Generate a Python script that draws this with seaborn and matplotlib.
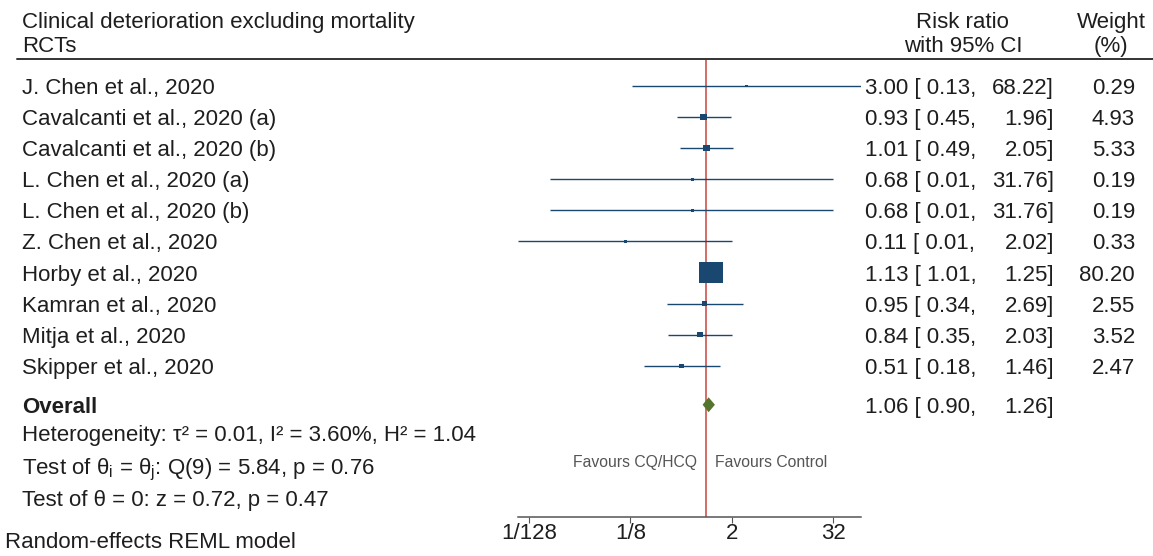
import numpy as np
import pandas as pd
import matplotlib
matplotlib.use("Agg")
import matplotlib.pyplot as plt
import matplotlib.transforms as mtransforms
import seaborn as sns

# Study data
studies = [
    "J. Chen et al., 2020",
    "Cavalcanti et al., 2020 (a)",
    "Cavalcanti et al., 2020 (b)",
    "L. Chen et al., 2020 (a)",
    "L. Chen et al., 2020 (b)",
    "Z. Chen et al., 2020",
    "Horby et al., 2020",
    "Kamran et al., 2020",
    "Mitja et al., 2020",
    "Skipper et al., 2020",
]
rr = [3.00, 0.93, 1.01, 0.68, 0.68, 0.11, 1.13, 0.95, 0.84, 0.51]
lower = [0.13, 0.45, 0.49, 0.014, 0.014, 0.0058, 1.01, 0.34, 0.35, 0.18]
upper = [68.22, 1.96, 2.05, 31.76, 31.76, 2.02, 1.25, 2.69, 2.03, 1.46]
lower_txt = ["0.13", "0.45", "0.49", "0.01", "0.01", "0.01", "1.01", "0.34", "0.35", "0.18"]
weights = [0.29, 4.93, 5.33, 0.19, 0.19, 0.33, 80.20, 2.55, 3.52, 2.47]

overall = (1.06, 0.90, 1.26)

tick_vals = [2.0 ** -7, 2.0 ** -3, 2.0, 2.0 ** 5]
tick_labels = ["1/128", "1/8", "2", "32"]

df = pd.DataFrame({"study": studies, "rr": rr, "lo": lower, "hi": upper, "w": weights})
df["row"] = np.arange(len(df))
overall_row = len(df) + 0.25

sns.set_style("white")
plt.rcParams["font.family"] = ["Liberation Sans", "DejaVu Sans"]
FS = 16
navy = "#1a476f"
txt = "#1e1e1e"

W, H = 1153, 556
fig = plt.figure(figsize=(W / 100, H / 100), dpi=100)

# forest panel: pixel box 518..861 wide, 60..517 tall
ax = fig.add_axes([518 / W, 1 - 517 / H, (861 - 518) / W, (517 - 60) / H])
ax.set_xscale("log", base=2)
ax.set_xlim(min(lower), max(upper))
ax.set_ylim(13.86, -0.836)

ax.hlines(df["row"], df["lo"], df["hi"], color=navy, lw=1.0, zorder=2)
# slightly wide box marker (reference image is stretched horizontally)
box = [(-1.2, -1), (1.2, -1), (1.2, 1), (-1.2, 1), (-1.2, -1)]
sns.scatterplot(data=df, x="rr", y="row", size="w",
                sizes=(5, max(weights) * 3.95),
                marker=box, color=navy, edgecolor="none", legend=False,
                ax=ax, zorder=3)

est, lo_o, hi_o = overall
dh = 0.24
ax.fill([lo_o, est, hi_o, est], [overall_row, overall_row - dh, overall_row, overall_row + dh],
        color="#55752f", zorder=4, lw=0)

ax.axvline(1, color="#c8453c", lw=1.1, zorder=1)

for s in ["top", "left", "right"]:
    ax.spines[s].set_visible(False)
ax.spines["bottom"].set_color("#555555")
ax.spines["bottom"].set_linewidth(1.1)
ax.set_xticks(tick_vals)
ax.set_xticklabels(tick_labels)
ax.minorticks_off()
ax.tick_params(axis="x", direction="out", length=4, width=0.8, color="#555555",
               labelsize=FS, labelcolor=txt, pad=0, bottom=True)
ax.set_yticks([])
ax.set_xlabel("")
ax.set_ylabel("")

# favours labels
ax.annotate("Favours CQ/HCQ", xy=(1, 12.12), xytext=(-6.5, 0), textcoords="offset points",
            ha="right", va="center", fontsize=11.3, color="#555555")
ax.annotate("Favours Control", xy=(1, 12.12), xytext=(5.8, 0), textcoords="offset points",
            ha="left", va="center", fontsize=11.3, color="#555555")

# text columns use figure x with data y, placed on the baseline
tr = mtransforms.blended_transform_factory(fig.transFigure, ax.transData)
tb = mtransforms.offset_copy(tr, fig=fig, y=-0.716 * FS / 2, units="points")
xl = 22 / W
x_est = 865 / W
x_up = 1054 / W
x_w = 1135 / W


def put(x, y, s, ha="left", **kw):
    fig.text(x, y, s, transform=tb, ha=ha, va="baseline", fontsize=FS, color=txt, **kw)


put(xl, -2.12, "Clinical deterioration excluding mortality")
put(xl, -1.35, "RCTs")
put(962 / W, -2.12, "Risk ratio", ha="center")
put(963 / W, -1.35, "with 95% CI", ha="center")
put(1111 / W, -2.12, "Weight", ha="center")
put(1111 / W, -1.35, "(%)", ha="center")

fig.add_artist(plt.Line2D([17 / W, 1.0], [1 - 59 / H, 1 - 59 / H], color="#333333", lw=1.4))

for _, r in df.iterrows():
    i = r["row"]
    put(xl, i, r["study"])
    put(x_est, i, f"{r['rr']:.2f} [ {lower_txt[int(i)]},")
    put(x_up, i, f"{r['hi']:.2f}]", ha="right")
    put(x_w, i, f"{r['w']:.2f}", ha="right")

put(xl, overall_row, "Overall", fontweight="bold")
put(x_est, overall_row, f"{est:.2f} [ {lo_o:.2f},")
put(x_up, overall_row, f"{hi_o:.2f}]", ha="right")

put(xl, 11.15, "Heterogeneity: τ² = 0.01, I² = 3.60%, H² = 1.04")
put(xl, 12.25, "Test of θ$_\\mathregular{i}$ = θ$_\\mathregular{j}$: Q(9) = 5.84, p = 0.76")
put(xl, 13.25, "Test of θ = 0: z = 0.72, p = 0.47")
fig.text(5 / W, 1 - 543 / H, "Random-effects REML model", ha="left", va="center",
         fontsize=FS, color=txt)

fig.savefig("out.png", dpi=100, facecolor="white")
